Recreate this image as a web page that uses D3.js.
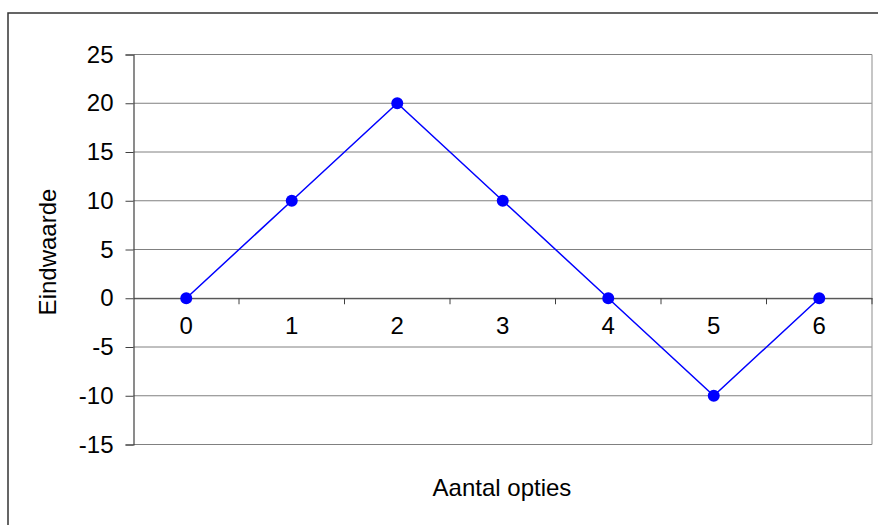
<!DOCTYPE html>
<html><head><meta charset="utf-8">
<script src="https://cdn.jsdelivr.net/npm/d3@7"></script>
<style>body{margin:0;background:#fff}svg{display:block;font-family:Arial,"Liberation Sans",sans-serif}</style>
</head><body>
<svg id="c" width="878" height="525"></svg>
<script>
const categories = ["0","1","2","3","4","5","6"];
const values = [0, 10, 20, 10, 0, -10, 0];
const yTicks = [-15, -10, -5, 0, 5, 10, 15, 20, 25];
const xTitle = "Aantal opties";
const yTitle = "Eindwaarde";

const svg = d3.select("#c");
const L = 133.5, R = 872, T = 54.5, B = 444.5;
const FONT = "Arial, 'Liberation Sans', sans-serif";

// outer frame
svg.append("rect").attr("x", 8).attr("y", 13).attr("width", 900).attr("height", 600)
  .attr("fill", "none").attr("stroke", "#333").attr("stroke-width", 1.5);

const x = d3.scaleBand().domain(categories).range([L, R]);
const y = d3.scaleLinear().domain([-15, 25]).range([B, T]);

// gridlines
svg.append("g").selectAll("line").data(yTicks).join("line")
  .attr("x1", L).attr("x2", R).attr("y1", d => y(d)).attr("y2", d => y(d))
  .attr("stroke", "#808080").attr("stroke-width", 1);
// right border
svg.append("line").attr("x1", R).attr("x2", R).attr("y1", T).attr("y2", B)
  .attr("stroke", "#a0a0a0").attr("stroke-width", 1.2);

// y axis
const yAxis = svg.append("g").attr("transform", `translate(${L},0)`)
  .call(d3.axisLeft(y).tickValues(yTicks).tickSize(8).tickPadding(12).tickFormat(d => String(d)));
yAxis.select(".domain").attr("stroke", "#404040").attr("stroke-width", 1.2);
yAxis.selectAll(".tick line").attr("stroke", "#404040");
yAxis.selectAll("text").attr("font-size", 24).attr("fill", "#000").attr("font-family", FONT);

// x axis at zero
const xAxis = svg.append("g").attr("transform", `translate(0,${y(0)})`)
  .call(d3.axisBottom(x).tickSize(0).tickPadding(19));
xAxis.select(".domain").attr("stroke", "#404040").attr("stroke-width", 1.2);
xAxis.selectAll("text").attr("font-size", 24).attr("fill", "#000").attr("font-family", FONT);
// boundary ticks
const bounds = categories.map(c => x(c) + x.bandwidth());
svg.append("g").selectAll("line").data(bounds).join("line")
  .attr("x1", d => d).attr("x2", d => d).attr("y1", y(0)).attr("y2", y(0) + 6)
  .attr("stroke", "#404040").attr("stroke-width", 1);

// line
const cx = d => x(d) + x.bandwidth() / 2;
svg.append("path").datum(values)
  .attr("d", d3.line().x((d, i) => cx(categories[i])).y(d => y(d)))
  .attr("fill", "none").attr("stroke", "#0000ff").attr("stroke-width", 1.5);
svg.append("g").selectAll("circle").data(values).join("circle")
  .attr("cx", (d, i) => cx(categories[i])).attr("cy", d => y(d)).attr("r", 6)
  .attr("fill", "#0000ff");

// titles
svg.append("text").attr("x", 502).attr("y", 496).attr("text-anchor", "middle")
  .attr("font-size", 24).attr("font-family", FONT).text(xTitle);
svg.append("text").attr("transform", "translate(56,252) rotate(-90)").attr("text-anchor", "middle")
  .attr("font-size", 24).attr("font-family", FONT).text(yTitle);
</script>
</body></html>
